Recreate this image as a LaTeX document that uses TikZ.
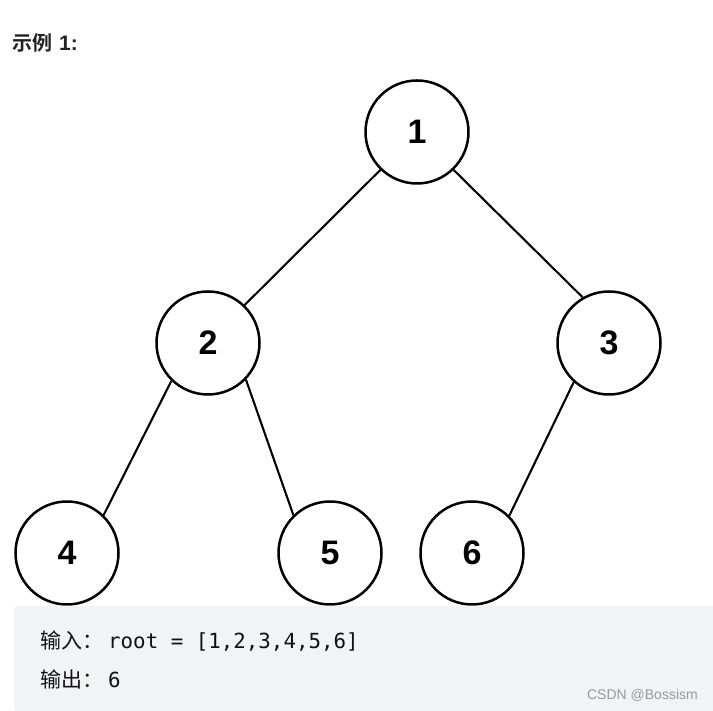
\documentclass[tikz,border=0pt]{standalone}
\usepackage{fontspec}
\setmainfont{Liberation Sans}
\newfontfamily\cjkfont{Noto Sans CJK SC}
\newfontfamily\cjkbold{Noto Sans CJK SC Bold}
\newfontfamily\monofont{DejaVu Sans Mono}
\definecolor{boxgray}{HTML}{F2F3F5}
\definecolor{wmgray}{HTML}{999999}
\definecolor{titlecol}{HTML}{222222}
\definecolor{codecol}{HTML}{111111}
\tikzset{
  treenode/.style={circle, draw=black, line width=2.5pt, fill=white, minimum size=103pt, inner sep=0pt,
    font=\fontsize{34}{34}\selectfont\bfseries},
  treeedge/.style={line width=2.1pt, black},
}
\begin{document}
\begin{tikzpicture}[x=1pt,y=1pt]
\useasboundingbox (0,0) rectangle (713,711);
\fill[white] (0,0) rectangle (713,711);
% title
\node[anchor=west, inner sep=0pt, text=titlecol, font=\fontsize{20}{20}\selectfont] (title) at (12,668) {{\cjkbold 示例}\hspace{7pt}{\fontsize{21}{21}\selectfont\bfseries 1:}};
% tree nodes
\node[treenode] (n1) at (417,579) {1};
\node[treenode] (n2) at (208,368) {2};
\node[treenode] (n3) at (609,368) {3};
\node[treenode] (n4) at (67,158) {4};
\node[treenode] (n5) at (330,158) {5};
\node[treenode] (n6) at (472,158) {6};
\draw[treeedge] (n1.226) -- (n2.46);
\draw[treeedge] (n1.314) -- (n3.120);
\draw[treeedge] (n2.226) -- (n4.46);
\draw[treeedge] (n2.316) -- (n5.134);
\draw[treeedge] (n3.228) -- (n6.45);
% code box
\fill[boxgray, rounded corners=3pt] (14,0) rectangle (716,105);
\node[anchor=west, inner sep=0pt, text=codecol, font=\fontsize{21}{21}\selectfont] (in) at (40,70) {\cjkfont 输入：\hspace{5pt}\monofont\fontsize{20.8}{21}\selectfont root = [1,2,3,4,5,6]};
\node[anchor=west, inner sep=0pt, text=codecol, font=\fontsize{21}{21}\selectfont] (out) at (40,32) {\cjkfont 输出：\hspace{5pt}\monofont\fontsize{20.8}{21}\selectfont 6};
\node[anchor=east, inner sep=0pt, text=wmgray, font=\fontsize{14}{14}\selectfont] (wm) at (698,16) {CSDN @Bossism};
\end{tikzpicture}
\end{document}
